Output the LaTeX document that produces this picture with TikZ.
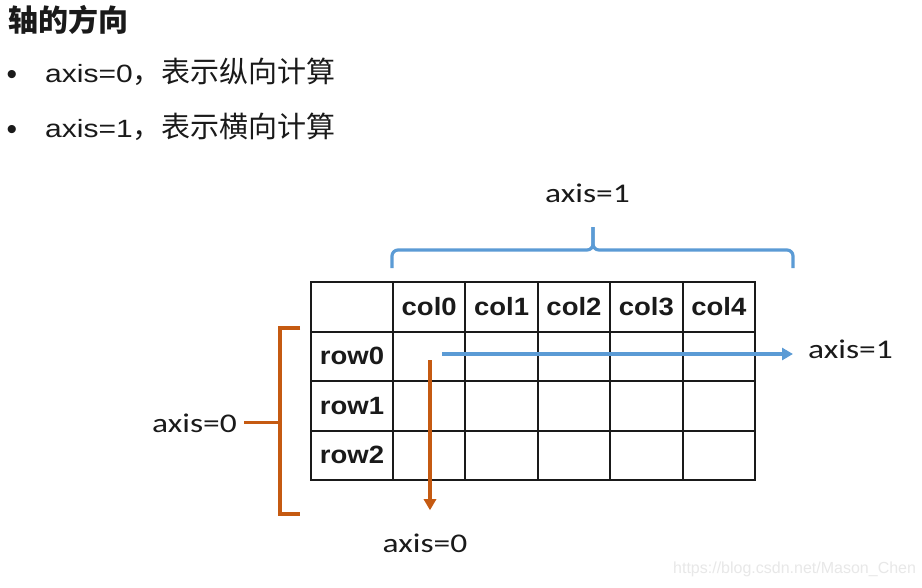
\documentclass[tikz,border=0pt]{standalone}
\usepackage{fontspec}
\setmainfont{Liberation Sans}
\newfontfamily\cjk{Noto Sans CJK SC}
\newfontfamily\latinfont{Liberation Sans}[FakeStretch=1.2]
\newfontfamily\axisfont{Carlito}[FakeStretch=1.24]
\newfontfamily\cellfont{Liberation Sans}[FakeStretch=1.1]
\usetikzlibrary{matrix, arrows.meta}
\usetikzlibrary{positioning}

\definecolor{axblue}{HTML}{5B9BD5}
\definecolor{axorange}{HTML}{C55A11}
\definecolor{ink}{HTML}{1A1A1A}
\definecolor{wmgray}{HTML}{E8E8E8}

\begin{document}
\begin{tikzpicture}[x=1pt,y=-1pt,>={Triangle[length=11pt,width=12pt]},
	lbl/.style={font=\axisfont\fontsize{27}{30}\selectfont,text=ink,inner sep=2pt},
	itm/.style={anchor=base west,inner sep=0pt,text=ink},
	brace/.style={line width=3.2pt},
]
	\useasboundingbox[fill=white] (0,0) rectangle (922,587);

	% heading and list
	\node[itm,font=\cjk\bfseries\fontsize{30}{32}\selectfont] (title) at (8,31) {轴的方向};
	\foreach \n/\y/\w in {0/82/纵,1/137/横}{
		\node[anchor=base,inner sep=0pt,font=\fontsize{30}{32}\selectfont,text=ink]
			(dot\n) at (12,\y+2) {•};
		\node[itm,font=\fontsize{25}{30}\selectfont] (item\n) at (45,\y)
			{{\latinfont axis=\n}{\cjk\fontsize{29}{32}\selectfont ，表示\w 向计算}};
	}

	\matrix (m) at (533,381) [
		matrix of nodes,
		nodes in empty cells,
		row sep=-2pt,
		column sep=-2pt,
		nodes={
			draw=ink,
			line width=2pt,
			anchor=center,
			inner sep=0pt,
			minimum width=72.4pt,
			minimum height=49.5pt,
			text=ink,
			font=\cellfont\bfseries\fontsize{25}{28}\selectfont,
		},
		column 1/.style={nodes={minimum width=82pt}},
	]
	{
		 & col0 & col1 & col2 & col3 & col4 \\
		row0 & & & & & \\
		row1 & & & & & \\
		row2 & & & & & \\
	};

	% axis=1 brace and arrow
	\node[lbl,anchor=base] (ax1top) at (587.5,202) {axis=1};
	\coordinate (b1l) at (392,268);
	\coordinate (b1r) at (793,268);
	\coordinate (b1m) at (593,250);
	\coordinate (b1t) at (593,227);
	\draw[axblue,brace,rounded corners=6pt] (b1l) |- (b1m) -- (b1t);
	\draw[axblue,brace,rounded corners=6pt] (b1r) |- (b1m) -- (b1t);

	\node[lbl,anchor=base west] (ax1right) at (806,358) {axis=1};
	\coordinate (c1) at (442,354);
	\draw[->,axblue,brace,shorten >=13pt] (c1) -- (c1 -| ax1right.west);

	% axis=0 bracket and arrow
	\node[lbl,anchor=base] (ax0left) at (194.5,432) {axis=0};
	\coordinate (b0t) at (300,328);
	\coordinate (b0b) at (300,514);
	\draw[axorange,brace] (b0t) -- (280,328) -- (280,514) -- (b0b);
	\draw[axorange,brace,shorten <=5pt] (ax0left.east) -- (ax0left.east -| 280,0);

	\node[lbl,anchor=base] (ax0bot) at (425,552) {axis=0};
	\coordinate (c0) at (430,360);
	\draw[->,axorange,brace,shorten >=21pt] (c0) -- (c0 |- ax0bot.north);

	% watermark
	\node[anchor=base west,inner sep=0pt,text=wmgray,font=\fontsize{16}{18}\selectfont]
		(wm) at (673,573) {https://blog.csdn.net/Mason\_Chen};
\end{tikzpicture}
\end{document}
